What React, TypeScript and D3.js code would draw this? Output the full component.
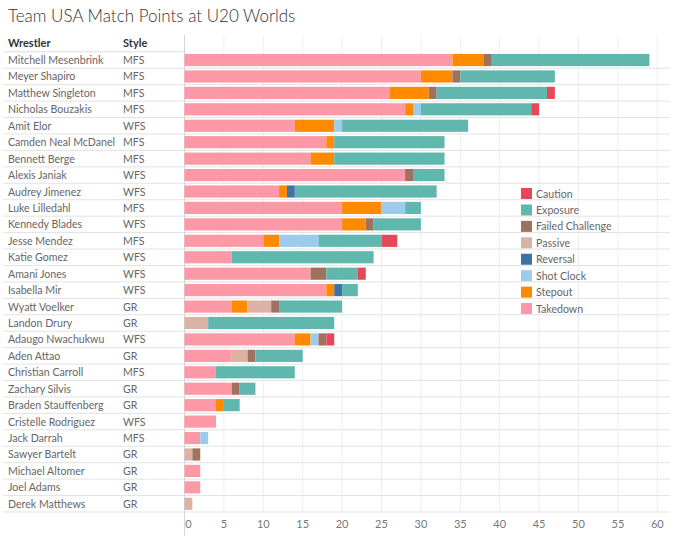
import * as d3 from "d3";

const wrestlers = [
  "Mitchell Mesenbrink", "Meyer Shapiro", "Matthew Singleton", "Nicholas Bouzakis",
  "Amit Elor", "Camden Neal McDanel", "Bennett Berge", "Alexis Janiak",
  "Audrey Jimenez", "Luke Lilledahl", "Kennedy Blades", "Jesse Mendez",
  "Katie Gomez", "Amani Jones", "Isabella Mir", "Wyatt Voelker",
  "Landon Drury", "Adaugo Nwachukwu", "Aden Attao", "Christian Carroll",
  "Zachary Silvis", "Braden Stauffenberg", "Cristelle Rodriguez", "Jack Darrah",
  "Sawyer Bartelt", "Michael Altomer", "Joel Adams", "Derek Matthews",
];
const styles = [
  "MFS", "MFS", "MFS", "MFS", "WFS", "MFS", "MFS", "WFS",
  "WFS", "MFS", "WFS", "MFS", "WFS", "WFS", "WFS", "GR",
  "GR", "WFS", "GR", "MFS", "GR", "GR", "WFS", "MFS",
  "GR", "GR", "GR", "GR",
];

// points per wrestler, same order as wrestlers
const takedown = [34, 30, 26, 28, 14, 18, 16, 28, 12, 20, 20, 10, 6, 16, 18, 6, 0, 14, 6, 4, 6, 4, 4, 2, 0, 2, 2, 0];
const stepout = [4, 4, 5, 1, 5, 1, 3, 0, 1, 5, 3, 2, 0, 0, 1, 2, 0, 2, 0, 0, 0, 1, 0, 0, 0, 0, 0, 0];
const shotClock = [0, 0, 0, 1, 1, 0, 0, 0, 0, 3, 0, 5, 0, 0, 0, 0, 0, 1, 0, 0, 0, 0, 0, 1, 0, 0, 0, 0];
const reversal = [0, 0, 0, 0, 0, 0, 0, 0, 1, 0, 0, 0, 0, 0, 1, 0, 0, 0, 0, 0, 0, 0, 0, 0, 0, 0, 0, 0];
const passive = [0, 0, 0, 0, 0, 0, 0, 0, 0, 0, 0, 0, 0, 0, 0, 3, 3, 0, 2, 0, 0, 0, 0, 0, 1, 0, 0, 1];
const failedChallenge = [1, 1, 1, 0, 0, 0, 0, 1, 0, 0, 1, 0, 0, 2, 0, 1, 0, 1, 1, 0, 1, 0, 0, 0, 1, 0, 0, 0];
const exposure = [20, 12, 14, 14, 16, 14, 14, 4, 18, 2, 6, 8, 18, 4, 2, 8, 16, 0, 6, 10, 2, 2, 0, 0, 0, 0, 0, 0];
const caution = [0, 0, 1, 1, 0, 0, 0, 0, 0, 0, 0, 2, 0, 1, 0, 0, 0, 1, 0, 0, 0, 0, 0, 0, 0, 0, 0, 0];

const legendKeys = ["Caution", "Exposure", "Failed Challenge", "Passive", "Reversal", "Shot Clock", "Stepout", "Takedown"];
const colors = ["#e8475a", "#60b7ad", "#9f715f", "#dab3a4", "#3f72a8", "#9ccbec", "#ff8a00", "#fd98a7"];
const xTicks = [0, 5, 10, 15, 20, 25, 30, 35, 40, 45, 50, 55, 60];

const seriesByKey: Record<string, number[]> = {
  Caution: caution,
  Exposure: exposure,
  "Failed Challenge": failedChallenge,
  Passive: passive,
  Reversal: reversal,
  "Shot Clock": shotClock,
  Stepout: stepout,
  Takedown: takedown,
};

const W = 680;
const H = 536;
const font = "Lato, 'Open Sans', sans-serif";

export default function App() {
  const rows = wrestlers.map((name, i) => {
    const r: Record<string, any> = { name, style: styles[i] };
    legendKeys.forEach((k) => (r[k] = seriesByKey[k][i]));
    return r;
  });

  // stack order: Takedown first (left) ... Caution last
  const stackKeys = legendKeys.slice().reverse();
  const stacked = d3.stack<any>().keys(stackKeys)(rows);

  const color = d3.scaleOrdinal<string, string>().domain(legendKeys).range(colors);

  const x = d3.scaleLinear().domain([0, 60]).range([184.5, 657.3]);
  const y = d3.scaleBand<string>().domain(wrestlers).range([51.8, 512]);
  const step = y.step();
  const barH = step * 0.74;
  const barOff = (step - barH) / 2;

  const legendY = d3.scaleBand<string>().domain(legendKeys).range([185, 185 + step * legendKeys.length]);

  return (
    <svg
      width={W}
      height={H}
      style={{ position: "absolute", left: 0, top: 0, background: "#fff" }}
      fontFamily={font}
    >
      <text x={8} y={22} fontSize={17} fontWeight={300} fill="#333">
        Team USA Match Points at U20 Worlds
      </text>

      {/* vertical gridlines */}
      {xTicks.slice(1).map((t) => (
        <line key={t} x1={x(t)} x2={x(t)} y1={35} y2={512} stroke="#efefef" strokeWidth={1} />
      ))}

      {/* row separators */}
      <line x1={3} x2={184.5} y1={51.8} y2={51.8} stroke="#dcdcdc" />
      {wrestlers.map((w) => (
        <line
          key={w}
          x1={3}
          x2={670}
          y1={(y(w) ?? 0) + step}
          y2={(y(w) ?? 0) + step}
          stroke="#e3e3e3"
        />
      ))}

      {/* divider */}
      <line x1={184.5} x2={184.5} y1={35} y2={536} stroke="#d6d6d6" />

      {/* table header */}
      <text x={8} y={47} fontSize={11} fontWeight="bold" fill="#333">Wrestler</text>
      <text x={123} y={47} fontSize={11} fontWeight="bold" fill="#333">Style</text>

      {rows.map((r) => (
        <g key={r.name} transform={`translate(0,${(y(r.name) ?? 0) + step / 2 + 4})`}>
          <text x={8} fontSize={10.6} fill="#666">{r.name}</text>
          <text x={123} fontSize={10.6} fill="#666">{r.style}</text>
        </g>
      ))}

      {/* bars */}
      {stacked.map((s) => (
        <g key={s.key} fill={color(s.key)}>
          {s.map((d, i) =>
            d[1] - d[0] > 0 ? (
              <rect
                key={i}
                x={x(d[0])}
                y={(y(wrestlers[i]) ?? 0) + barOff}
                width={x(d[1]) - x(d[0])}
                height={barH}
              />
            ) : null,
          )}
        </g>
      ))}

      {/* x axis labels */}
      {xTicks.map((t) => (
        <text
          key={t}
          x={t === 0 ? x(t) + 4 : x(t)}
          y={528}
          fontSize={11}
          fill="#777"
          textAnchor="middle"
        >
          {t}
        </text>
      ))}

      {/* legend */}
      {legendKeys.map((k) => (
        <g key={k} transform={`translate(521,${(legendY(k) ?? 0) + 3})`}>
          <rect width={11} height={11} fill={color(k)} />
          <text x={15} y={9.5} fontSize={10.6} fill="#666">{k}</text>
        </g>
      ))}
    </svg>
  );
}
